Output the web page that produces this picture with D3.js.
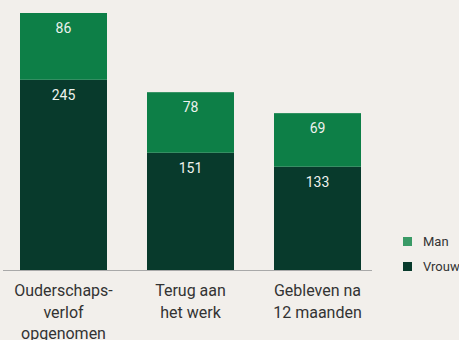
<!DOCTYPE html>
<html>
<head>
<meta charset="utf-8">
<script src="https://cdn.jsdelivr.net/npm/d3@7"></script>
<style>
  html, body { margin: 0; padding: 0; background: #f2efeb; }
  svg { display: block; }
</style>
</head>
<body>
<svg id="chart" width="459" height="340"></svg>
<script>
// Ouderschapsverlof per geslacht
const categories = [["Ouderschaps-", "verlof", "opgenomen"], ["Terug aan", "het werk"], ["Gebleven na", "12 maanden"]];
const vrouw = [245, 151, 133];
const man = [86, 78, 69];
const seriesNames = ["Man", "Vrouw"];

const colors = { Man: "#0d7f47", Vrouw: "#083a2c" };
const legendColors = { Man: "#3a9a66", Vrouw: "#083a2c" };

const svg = d3.select("#chart");
const baseY = 270, topY = 13;

const x = d3.scaleBand()
  .domain(d3.range(categories.length))
  .range([20, 361])
  .paddingInner(0.315)
  .paddingOuter(0);

const totals = vrouw.map((v, i) => v + man[i]);
const y = d3.scaleLinear()
  .domain([0, d3.max(totals)])
  .range([baseY, topY]);

const data = categories.map((c, i) => ({ i, Vrouw: vrouw[i], Man: man[i] }));
const stack = d3.stack().keys(["Vrouw", "Man"])(data);

const font = "Roboto, 'DejaVu Sans', sans-serif";

stack.forEach(layer => {
  const g = svg.append("g");
  g.selectAll("rect")
    .data(layer)
    .join("rect")
    .attr("x", d => x(d.data.i))
    .attr("width", x.bandwidth())
    .attr("y", d => y(d[1]))
    .attr("height", d => y(d[0]) - y(d[1]))
    .attr("fill", colors[layer.key]);
  g.selectAll("text")
    .data(layer)
    .join("text")
    .attr("x", d => x(d.data.i) + x.bandwidth() / 2)
    .attr("y", d => y(d[1]) + 20)
    .attr("text-anchor", "middle")
    .attr("font-family", font)
    .attr("font-size", 14)
    .attr("fill", "#eef2ee")
    .text(d => d.data[layer.key]);
});

// baseline
svg.append("line")
  .attr("x1", 3).attr("x2", 372)
  .attr("y1", baseY + 0.5).attr("y2", baseY + 0.5)
  .attr("stroke", "#a9a9a9").attr("stroke-width", 1);

// category labels
const xAxis = d3.axisBottom(x).tickSize(0).tickFormat(() => "");
const axisG = svg.append("g").attr("transform", `translate(0,${baseY})`).call(xAxis);
axisG.select(".domain").remove();
axisG.selectAll(".tick").each(function (d) {
  const t = d3.select(this).append("text")
    .attr("text-anchor", "middle")
    .attr("font-family", font)
    .attr("font-size", 16)
    .attr("fill", "#333333");
  categories[d].forEach((line, k) => {
    t.append("tspan").attr("x", 0).attr("y", 26 + k * 21.5).text(line);
  });
});

// legend
const legend = svg.append("g");
seriesNames.forEach((name, k) => {
  const gy = 237 + k * 25;
  legend.append("rect")
    .attr("x", 403).attr("y", gy).attr("width", 9).attr("height", 9)
    .attr("fill", legendColors[name]);
  legend.append("text")
    .attr("x", 423).attr("y", gy + 9)
    .attr("font-family", font).attr("font-size", 13)
    .attr("fill", "#333333")
    .text(name);
});
</script>
</body>
</html>
